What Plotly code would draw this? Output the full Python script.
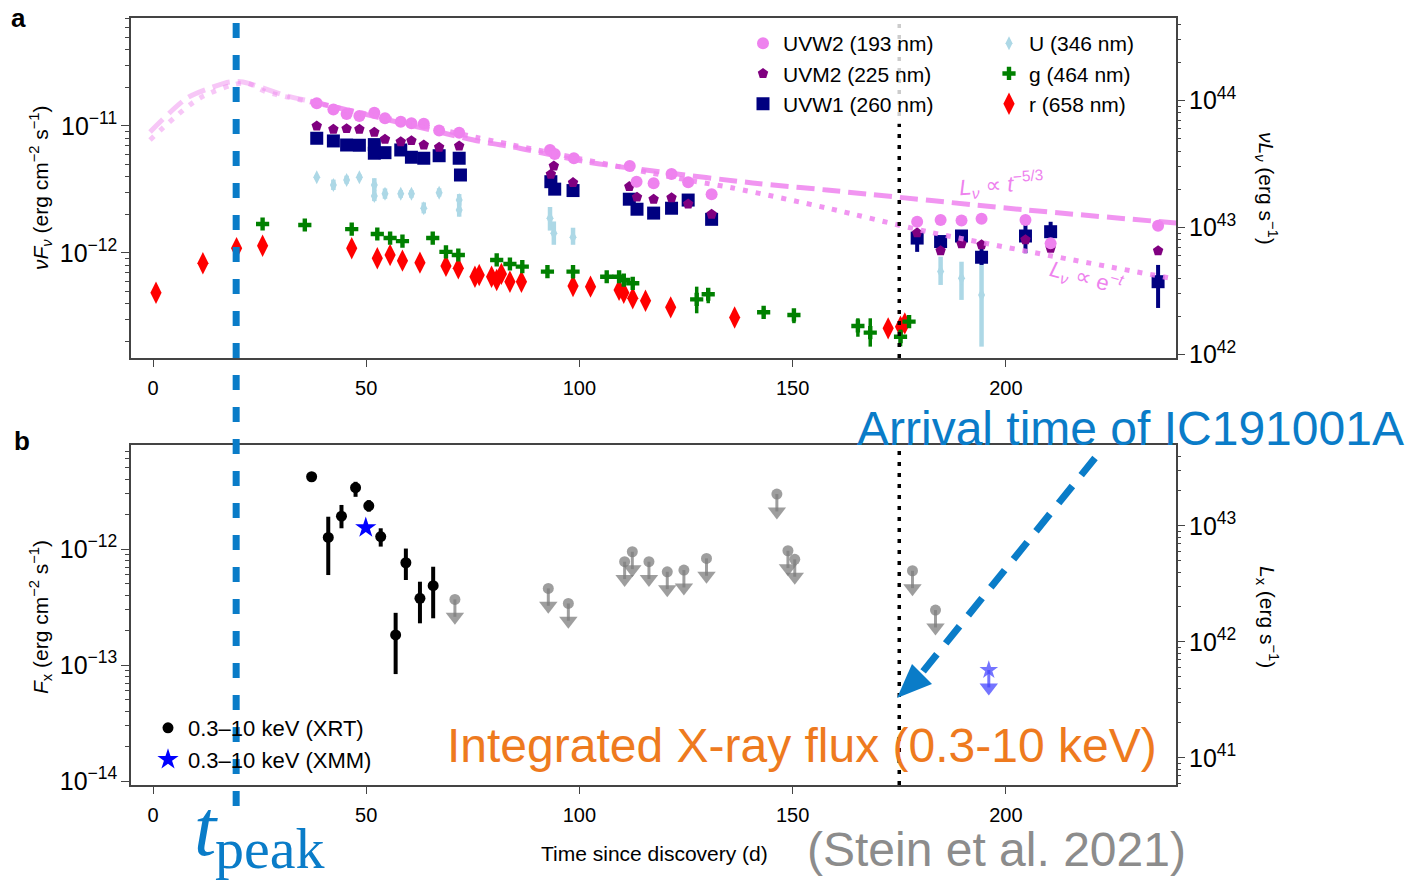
import plotly.graph_objects as go

# ---------------- constants ----------------
T_PEAK = 19.5        # day of the optical peak
T_NU = 175.0         # arrival of IC191001A (days since discovery)
LUM_DEX = 54.80      # log10(4 pi d_L^2): flux -> luminosity offset

X_TICKS = [0, 50, 100, 150, 200]

# ---------------- panel a: UV / optical photometry ----------------
UVW2_T = [38.4, 42.3, 45.4, 48.4, 51.9, 54.4, 58.1, 60.6, 63.5, 67.1, 71.8, 93.1, 94.2, 98.7,
          111.8, 113.4, 117.4, 121.6, 125.5, 131.0, 179.2, 184.7, 189.6, 194.3, 204.6, 210.5, 235.7]
UVW2_F = [1.51e-11, 1.35e-11, 1.24e-11, 1.20e-11, 1.27e-11, 1.15e-11, 1.08e-11, 1.05e-11, 1.04e-11,
          9.2e-12, 8.85e-12, 6.47e-12, 6.02e-12, 5.57e-12, 4.84e-12, 3.64e-12, 3.54e-12, 4.19e-12,
          3.60e-12, 2.90e-12, 1.76e-12, 1.82e-12, 1.80e-12, 1.86e-12, 1.82e-12, 1.19e-12, 1.64e-12]

UVM2_T = [38.4, 42.3, 45.4, 48.4, 51.9, 54.4, 58.1, 60.6, 63.5, 67.1, 71.8, 94.0, 93.3, 98.5,
          111.7, 113.5, 117.4, 121.6, 125.5, 131.0, 179.2, 184.7, 189.6, 194.3, 204.6, 210.5, 235.7]
UVM2_F = [1.00e-11, 9.42e-12, 9.52e-12, 9.42e-12, 8.92e-12, 7.86e-12, 7.52e-12, 7.66e-12, 7.08e-12,
          6.80e-12, 6.96e-12, 4.84e-12, 4.17e-12, 3.58e-12, 3.33e-12, 2.75e-12, 2.65e-12, 2.72e-12,
          2.43e-12, 2.02e-12, 1.44e-12, 1.04e-12, 1.18e-12, 1.16e-12, 1.27e-12, 1.09e-12, 1.04e-12]

UVW1_T = [38.4, 42.3, 45.4, 48.4, 51.9, 51.9, 54.4, 58.1, 60.6, 63.5, 67.1, 71.8, 72.1, 93.3, 94.2,
          98.5, 111.7, 113.5, 117.4, 121.6, 125.5, 131.0, 179.2, 184.7, 189.6, 194.3, 204.6, 210.5, 235.7]
UVW1_F = [8.00e-12, 7.62e-12, 7.08e-12, 7.05e-12, 7.13e-12, 6.10e-12, 6.16e-12, 6.47e-12, 5.67e-12,
          5.57e-12, 5.83e-12, 5.57e-12, 4.11e-12, 3.64e-12, 3.18e-12, 3.10e-12, 2.65e-12, 2.21e-12,
          2.06e-12, 2.25e-12, 2.61e-12, 1.84e-12, 1.31e-12, 1.23e-12, 1.36e-12, 9.25e-13, 1.36e-12,
          1.47e-12, 5.94e-13]
UVW1_UP = [0] * 22 + [1.6e-13, 1.0e-13, 1.0e-13, 1.95e-13, 4.0e-13, 2.9e-13, 2.11e-13]
UVW1_DN = [0] * 22 + [2.9e-13, 1.0e-13, 1.0e-13, 1.2e-13, 3.65e-13, 2.1e-13, 2.25e-13]

U_T = [38.4, 42.3, 45.4, 48.4, 51.9, 51.9, 54.4, 58.1, 60.6, 63.5, 67.1, 71.8, 71.8, 93.1, 94.0,
       98.5, 184.7, 189.6, 194.3]
U_F = [3.95e-12, 3.43e-12, 3.76e-12, 3.95e-12, 3.43e-12, 2.81e-12, 2.92e-12, 2.92e-12, 2.92e-12,
       2.25e-12, 2.98e-12, 2.61e-12, 2.18e-12, 1.88e-12, 1.43e-12, 1.33e-12, 7.13e-13, 6.32e-13, 4.67e-13]
U_UP = [1.5e-13, 3.5e-13, 3.0e-13, 2.0e-13, 4.5e-13, 3.0e-13, 3.0e-13, 2.0e-13, 2.0e-13, 2.5e-13,
        2.5e-13, 3.0e-13, 3.0e-13, 4.2e-13, 3.4e-13, 2.5e-13, 2.22e-13, 2.21e-13, 4.14e-13]
U_DN = [1.5e-13, 3.0e-13, 2.5e-13, 2.0e-13, 3.5e-13, 2.5e-13, 2.5e-13, 2.0e-13, 2.0e-13, 2.0e-13,
        2.0e-13, 2.5e-13, 2.5e-13, 3.8e-13, 2.7e-13, 1.7e-13, 1.53e-13, 2.05e-13, 2.84e-13]

G_T = [25.7, 35.6, 46.6, 52.6, 55.6, 58.5, 65.6, 68.7, 71.6, 80.6, 83.7, 86.6, 92.5, 98.5, 106.4,
       109.3, 110.4, 112.5, 127.5, 130.2, 143.2, 150.3, 165.3, 168.2, 175.3, 177.3]
G_F = [1.69e-12, 1.66e-12, 1.54e-12, 1.41e-12, 1.31e-12, 1.24e-12, 1.31e-12, 1.02e-12, 9.64e-13,
       8.81e-13, 8.19e-13, 7.80e-13, 7.13e-13, 7.13e-13, 6.50e-13, 6.50e-13, 6.12e-13, 5.77e-13,
       4.31e-13, 4.73e-13, 3.41e-13, 3.25e-13, 2.66e-13, 2.36e-13, 2.19e-13, 2.88e-13]
G_UP = [7e-14, 7e-14, 6e-14, 6e-14, 5e-14, 5e-14, 5e-14, 4e-14, 4e-14, 4e-14, 4e-14, 4e-14, 3e-14,
        6.7e-14, 3e-14, 3e-14, 3e-14, 3e-14, 1.12e-13, 5.3e-14, 2.5e-14, 3.7e-14, 4.0e-14, 7.0e-14,
        3.0e-14, 2e-14]
G_DN = [7e-14, 7e-14, 6e-14, 6e-14, 5e-14, 5e-14, 5e-14, 4e-14, 4e-14, 4e-14, 4e-14, 4e-14, 3e-14,
        8.3e-14, 3e-14, 3e-14, 3e-14, 3e-14, 9.6e-14, 7.1e-14, 2.5e-14, 4.5e-14, 4.7e-14, 5.3e-14,
        3.5e-14, 2e-14]

R_T = [0.7, 11.7, 19.6, 25.7, 46.6, 52.6, 55.6, 58.5, 62.6, 68.7, 71.6, 75.5, 76.5, 79.4, 80.6, 81.7,
       83.7, 86.4, 98.5, 102.6, 109.3, 110.4, 112.5, 115.5, 121.4, 136.4, 172.4, 175.3, 176.3]
R_F = [4.86e-13, 8.30e-13, 1.09e-12, 1.14e-12, 1.09e-12, 9.08e-13, 9.64e-13, 8.70e-13, 8.39e-13,
       7.91e-13, 7.58e-13, 6.50e-13, 6.71e-13, 6.50e-13, 6.12e-13, 6.84e-13, 5.94e-13, 5.94e-13,
       5.50e-13, 5.43e-13, 5.12e-13, 4.86e-13, 4.40e-13, 4.21e-13, 3.73e-13, 3.10e-13, 2.55e-13,
       2.63e-13, 2.79e-13]

# model light curves (luminosity axis): rise (faint) and decline (solid colour), in flux units
POW_RISE_T = [-0.7, 8.0, 14.1, 18.0, 21.1, 31.4, 35.6, 37.0]
POW_RISE_F = [8.97e-12, 1.66e-11, 2.03e-11, 2.22e-11, 2.22e-11, 1.72e-11, 1.60e-11, 1.57e-11]
POW_FALL_T = [37.0, 55.0, 77.4, 84.4, 101.7, 118.8, 140.6, 158.0, 204.9, 240.0]
POW_FALL_F = [1.57e-11, 1.12e-11, 7.48e-12, 6.84e-12, 5.21e-12, 4.35e-12, 3.56e-12, 3.13e-12, 2.18e-12, 1.72e-12]
EXP_RISE_T = [-0.7, 11.0, 21.6, 26.7, 36.8]
EXP_RISE_F = [7.76e-12, 1.66e-11, 2.18e-11, 1.85e-11, 1.55e-11]
EXP_FALL_T = [36.8, 84.4, 125.2, 136.0, 158.0, 182.1, 238.4]
EXP_FALL_F = [1.55e-11, 7.08e-12, 3.76e-12, 3.25e-12, 2.26e-12, 1.46e-12, 6.35e-13]

# ---------------- panel b: X-ray ----------------
XRT_T = [37.2, 41.1, 44.2, 47.5, 50.6, 53.4, 56.9, 59.3, 62.6, 65.7]
XRT_F = [4.20e-12, 1.26e-12, 1.92e-12, 3.38e-12, 2.36e-12, 1.28e-12, 1.82e-13, 7.62e-13, 3.76e-13, 4.83e-13]
XRT_UP = [0, 6.4e-13, 4.8e-13, 4.2e-13, 2.8e-13, 2.3e-13, 1.00e-13, 2.48e-13, 1.47e-13, 2.21e-13]
XRT_DN = [0, 6.63e-13, 4.1e-13, 5.6e-13, 2.6e-13, 2.3e-13, 0.984e-13, 2.21e-13, 1.47e-13, 2.30e-13]

XMM_T = [49.9]
XMM_F = [1.53e-12]

XRT_UL_T = [70.8, 92.7, 97.4, 110.6, 112.4, 116.3, 120.6, 124.5, 129.8, 146.3, 148.9, 150.5, 178.1, 183.5]
XRT_UL_F = [3.68e-13, 4.58e-13, 3.40e-13, 7.78e-13, 9.48e-13, 7.78e-13, 6.37e-13, 6.59e-13, 8.31e-13,
            2.98e-12, 9.67e-13, 8.15e-13, 6.50e-13, 2.98e-13]
XMM_UL_T = [196.0]
XMM_UL_F = [9.06e-14]

# ---------------- style ----------------
FONT = "Liberation Sans, Arial, Helvetica, sans-serif"
SERIF = "Liberation Serif, Times New Roman, serif"
BLUE = "#0A7CC8"
VIOLET = "violet"
UL_DROP = 10 ** -0.15          # arrow head offset below an upper limit
W, H = 1407, 881
LUM = 10 ** LUM_DEX


def px(x):
    return x / W


def py(y):
    return 1 - y / H


fig = go.Figure()


def points(t, f, name, color, symbol, size, legend, up=None, dn=None, xa="x", ya="y", thick=3.5):
    err = None
    if up is not None:
        err = dict(type="data", symmetric=False, array=up, arrayminus=dn,
                   color=color, thickness=thick, width=0)
    fig.add_trace(go.Scatter(
        x=t, y=f, mode="markers", name=name, legend=legend,
        marker=dict(symbol=symbol, size=size, color=color, line=dict(width=0)),
        error_y=err, xaxis=xa, yaxis=ya, cliponaxis=False))


def model(t, f, dash, color):
    # drawn against the luminosity scale (right-hand axis)
    fig.add_trace(go.Scatter(
        x=t, y=[v * LUM for v in f], mode="lines", showlegend=False, hoverinfo="skip",
        line=dict(color=color, width=5, dash=dash, shape="spline", smoothing=0.8),
        xaxis="x", yaxis="y2"))


# photometry
points(R_T, R_F, "r (658 nm)", "red", "diamond-tall", 16, "legend2")
points(G_T, G_F, "g (464 nm)", "green", "cross", 11, "legend2", G_UP, G_DN)
points(U_T, U_F, "U (346 nm)", "lightblue", "diamond-tall", 10, "legend2", U_UP, U_DN, thick=4.5)
points(UVW1_T, UVW1_F, "UVW1 (260 nm)", "navy", "square", 13, "legend", UVW1_UP, UVW1_DN, thick=4)
points(UVM2_T, UVM2_F, "UVM2 (225 nm)", "purple", "pentagon", 11, "legend")
points(UVW2_T, UVW2_F, "UVW2 (193 nm)", VIOLET, "circle", 12, "legend")

# model curves
model(POW_RISE_T, POW_RISE_F, "18px,8px", "rgba(238,130,238,0.45)")
model(EXP_RISE_T, EXP_RISE_F, "5px,8px", "rgba(238,130,238,0.45)")
model(POW_FALL_T, POW_FALL_F, "18px,8px", "rgba(238,130,238,0.85)")
model(EXP_FALL_T, EXP_FALL_F, "5px,8px", "rgba(238,130,238,0.85)")

points(XRT_T, XRT_F, "0.3–10 keV (XRT)", "black", "circle", 11, "legend3",
       XRT_UP, XRT_DN, xa="x2", ya="y3", thick=4)
points(XMM_T, XMM_F, "0.3–10 keV (XMM)", "blue", "star", 16, "legend3", xa="x2", ya="y3")

# X-ray upper limits (luminosity axis): dot, stem and arrow head
for t, f, col, sym, size in [(XRT_UL_T, XRT_UL_F, "rgba(125,125,125,0.75)", "circle", 11),
                             (XMM_UL_T, XMM_UL_F, "rgba(70,70,255,0.75)", "star", 14)]:
    lum = [v * LUM for v in f]
    fig.add_trace(go.Scatter(
        x=t, y=lum, mode="markers", showlegend=False, xaxis="x2", yaxis="y4",
        marker=dict(symbol=sym, size=size, color=col, line=dict(width=0)),
        error_y=dict(type="data", symmetric=False, array=[0] * len(lum),
                     arrayminus=[v * (1 - UL_DROP) for v in lum], color=col, thickness=3, width=0)))
    fig.add_trace(go.Scatter(
        x=t, y=[v * UL_DROP for v in lum], mode="markers", showlegend=False, xaxis="x2", yaxis="y4",
        marker=dict(symbol="triangle-down", size=16, color=col, line=dict(width=0))))

# ---------------- axes ----------------
XDOM = [px(131), px(1176)]
TOP_DOM = [py(358), py(18)]
BOT_DOM = [py(785), py(445)]
TOP_RANGE = [-12.827, -10.150]
BOT_RANGE = [-14.034, -11.103]

tickfont = dict(family=FONT, size=20, color="black")
spine = dict(showline=True, linecolor="#444", linewidth=1.5, showgrid=False, zeroline=False,
             automargin=False)


def xaxis(anchor):
    return dict(domain=XDOM, range=[-5.16, 239.9], anchor=anchor, tickvals=X_TICKS,
                ticks="outside", ticklen=7, tickcolor="#444", tickfont=tickfont, mirror=True,
                ticklabelstandoff=4, **spine)


def logaxis(dom, rng, anchor, side="left", overlay=None):
    d = dict(type="log", range=rng, anchor=anchor, side=side, dtick=1, exponentformat="power",
             ticks="outside", ticklen=8, tickcolor="#444", tickfont=tickfont,
             minor=dict(ticks="outside", ticklen=4, tickcolor="#444", showgrid=False), **spine)
    if overlay:
        d["overlaying"] = overlay
        d["showline"] = False
    else:
        d["domain"] = dom
        d["mirror"] = True
    return d


fig.update_layout(
    template="none",
    width=W, height=H, margin=dict(l=0, r=0, t=0, b=0, pad=0), autosize=False,
    paper_bgcolor="white", plot_bgcolor="white",
    font=dict(family=FONT, color="black"),
    xaxis=xaxis("y"),
    xaxis2=xaxis("y3"),
    yaxis=logaxis(TOP_DOM, TOP_RANGE, "x"),
    yaxis2=logaxis(None, [v + LUM_DEX for v in TOP_RANGE], "x", "right", "y"),
    yaxis3=logaxis(BOT_DOM, BOT_RANGE, "x2"),
    yaxis4=logaxis(None, [v + LUM_DEX for v in BOT_RANGE], "x2", "right", "y3"),
    legend=dict(x=px(743), y=py(23), xanchor="left", yanchor="top",
                bgcolor="rgba(255,255,255,0.8)", font=dict(family=FONT, size=21),
                traceorder="reversed"),
    legend2=dict(x=px(989), y=py(23), xanchor="left", yanchor="top",
                 bgcolor="rgba(255,255,255,0.8)", font=dict(family=FONT, size=21),
                 traceorder="reversed"),
    legend3=dict(x=px(148), y=py(707), xanchor="left", yanchor="top",
                 bgcolor="rgba(0,0,0,0)", font=dict(family=FONT, size=22)),
)

# ---------------- reference lines ----------------
shapes = [
    dict(type="line", xref="x", x0=T_PEAK, x1=T_PEAK, yref="paper", y0=py(806), y1=py(20),
         line=dict(color=BLUE, width=7, dash="15px,17px"), layer="above"),
    dict(type="line", xref="x", x0=T_NU, x1=T_NU, yref="y domain", y0=0, y1=1,
         line=dict(color="black", width=3.5, dash="4px,7px"), layer="above"),
    dict(type="line", xref="x2", x0=T_NU, x1=T_NU, yref="y3 domain", y0=0, y1=1,
         line=dict(color="black", width=3.5, dash="4px,7px"), layer="above"),
    # arrow pointing at the neutrino arrival time
    dict(type="line", xref="paper", yref="paper", x0=px(1095), y0=py(458), x1=px(921), y1=py(674),
         line=dict(color=BLUE, width=7, dash="22px,14px"), layer="above"),
    dict(type="path", xref="paper", yref="paper",
         path=f"M {px(897)} {py(698)} L {px(932)} {py(684)} L {px(912)} {py(664)} Z",
         fillcolor=BLUE, line=dict(width=0), layer="above"),
]
fig.update_layout(shapes=shapes)

# ---------------- text ----------------
ann = []


def text(x, y, s, size=20, color="black", angle=0, family=FONT, xanchor="center", yanchor="middle"):
    ann.append(dict(x=px(x), y=py(y), xref="paper", yref="paper", text=s, showarrow=False,
                    textangle=angle, xanchor=xanchor, yanchor=yanchor,
                    font=dict(family=family, size=size, color=color)))


text(9, 18, "<b>a</b>", 26, xanchor="left")
text(12, 441, "<b>b</b>", 26, xanchor="left")
text(40, 188, "<i>νF</i><sub><i>ν</i></sub> (erg cm<sup>−2</sup> s<sup>−1</sup>)", 21, angle=-90)
text(40, 617, "<i>F</i><sub>x</sub> (erg cm<sup>−2</sup> s<sup>−1</sup>)", 21, angle=-90)
text(1267, 188, "<i>νL</i><sub><i>ν</i></sub> (erg s<sup>−1</sup>)", 21, angle=90)
text(1268, 617, "<i>L</i><sub>x</sub> (erg s<sup>−1</sup>)", 21, angle=90)
text(654, 853, "Time since discovery (d)", 21)
text(1001, 184, "<i>L</i><sub><i>ν</i></sub> ∝ <i>t</i><sup>−5/3</sup>", 22, VIOLET, angle=-4)
text(1086, 278, "<i>L</i><sub><i>ν</i></sub> ∝ e<sup>−<i>t</i></sup>", 22, VIOLET, angle=15)
text(1130, 428, "Arrival time of IC191001A", 48, BLUE)
text(802, 745, "Integrated X-ray flux (0.3-10 keV)", 48, "#EE7A1E")
text(996, 849, "(Stein et al. 2021)", 48, "#8C8C8C")
text(206, 828, "<i>t</i>", 80, BLUE, family=SERIF)
text(270, 848, "peak", 58, BLUE, family=SERIF)
fig.update_layout(annotations=ann)

fig.write_html("out.html")
